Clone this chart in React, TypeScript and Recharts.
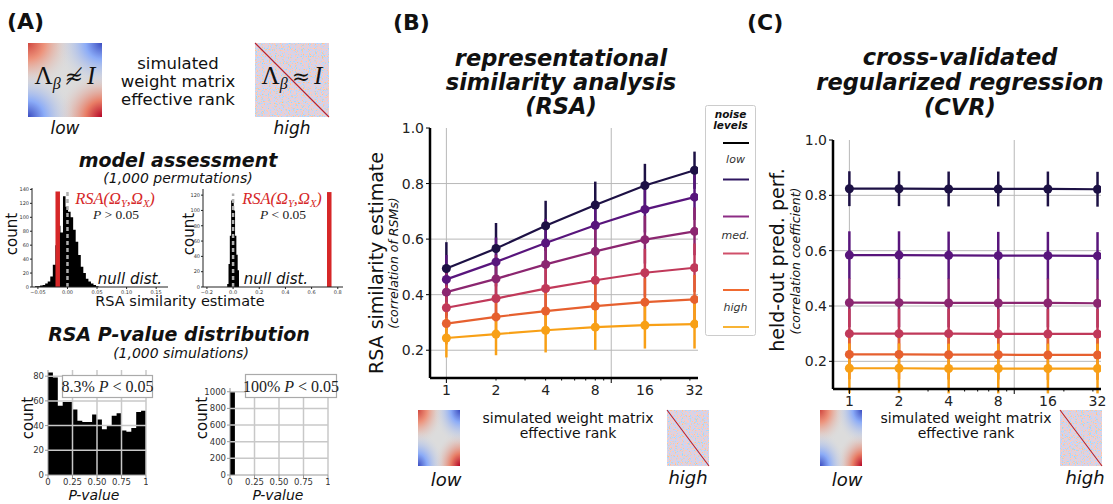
import React from 'react';
import {
  LineChart,
  Line,
  XAxis,
  YAxis,
  CartesianGrid,
  ErrorBar,
  AreaChart,
  Area,
  ReferenceLine,
} from 'recharts';

// ---- data ----
const ranks = [1, 2, 4, 8, 16, 32];
const rankTicks = [1, 2, 3, 4, 5, 6, 7, 8, 9, 10, 16, 20, 30, 32];

// RSA similarity estimate, one row per noise level (low -> high)
const rsaMeans = [
  [0.494, 0.566, 0.648, 0.723, 0.793, 0.848],
  [0.455, 0.518, 0.586, 0.65, 0.707, 0.751],
  [0.409, 0.457, 0.509, 0.556, 0.598, 0.628],
  [0.353, 0.386, 0.422, 0.452, 0.479, 0.497],
  [0.296, 0.32, 0.341, 0.359, 0.373, 0.383],
  [0.244, 0.258, 0.272, 0.283, 0.29, 0.294],
];
const rsaErrs = [
  [0.095, 0.092, 0.09, 0.084, 0.078, 0.067],
  [0.088, 0.088, 0.087, 0.085, 0.083, 0.082],
  [0.085, 0.086, 0.086, 0.086, 0.086, 0.086],
  [0.08, 0.082, 0.084, 0.085, 0.086, 0.087],
  [0.075, 0.078, 0.082, 0.084, 0.086, 0.088],
  [0.07, 0.076, 0.08, 0.082, 0.084, 0.088],
];

// CVR held-out prediction performance
const cvrMeans = [
  [0.824, 0.824, 0.823, 0.823, 0.823, 0.822],
  [0.584, 0.584, 0.583, 0.582, 0.582, 0.581],
  [0.412, 0.412, 0.411, 0.411, 0.411, 0.41],
  [0.3, 0.3, 0.3, 0.299, 0.299, 0.299],
  [0.225, 0.225, 0.224, 0.224, 0.223, 0.223],
  [0.175, 0.175, 0.174, 0.174, 0.174, 0.174],
];
const cvrErrs = [
  [0.063, 0.063, 0.063, 0.063, 0.063, 0.063],
  [0.086, 0.086, 0.086, 0.086, 0.086, 0.086],
  [0.088, 0.088, 0.088, 0.088, 0.088, 0.088],
  [0.09, 0.09, 0.09, 0.09, 0.09, 0.09],
  [0.09, 0.09, 0.09, 0.09, 0.09, 0.09],
  [0.09, 0.09, 0.09, 0.09, 0.09, 0.09],
];

const lineColors = ['#1d1145', '#58157c', '#8b2670', '#c0395a', '#e6602f', '#f8a016'];
const legendColors = ['#000000', '#2e1660', '#8d2d85', '#d0506a', '#f06a30', '#f8b435'];

// null distributions (permutation histograms)
const null1Start = -0.0549;
const null1Width = 0.0043;
const null1Counts = [1, 1, 2, 3, 5, 8, 15, 32, 60, 88, 78, 130, 115, 108, 100, 82, 65, 46, 29, 20, 12, 8, 5, 3, 1];
const null1Observed = -0.0165;

const null2Start = -0.045;
const null2Width = 0.01;
const null2Counts = [4, 30, 67, 113, 110, 100, 67, 42, 22];
const null2Observed = 0.735;

// P-value histograms (20 bins of 0.05)
const pLowCounts = [83, 79, 56, 59, 59, 53, 44, 43, 43, 49, 45, 37, 40, 48, 50, 36, 35, 38, 51, 52];
const pHighCounts = [1000, 0, 0, 0, 0, 0, 0, 0, 0, 0, 0, 0, 0, 0, 0, 0, 0, 0, 0, 0];

const SANS = 'DejaVu Sans';
const SERIF = 'Liberation Serif';

function toSteps(start: number, width: number, counts: number[]) {
  const pts = counts.map((c, i) => ({ x: start + i * width, c }));
  pts.push({ x: start + counts.length * width, c: 0 });
  return pts;
}

function buildRows(means: number[][], errs: number[][]) {
  return ranks.map((r, i) => {
    const row: any = { x: Math.log2(r) };
    means.forEach((m, s) => {
      row['m' + s] = m[i];
      row['e' + s] = errs[s][i];
    });
    return row;
  });
}

function RankTick(props: any) {
  const { x, y, payload } = props;
  const r = Math.round(Math.pow(2, payload.value));
  const len = r === 1 || r === 10 ? 5 : r === 16 || r === 32 ? 0 : 2.5;
  const show = ranks.includes(r);
  return (
    <g>
      {len > 0 && <line x1={x} x2={x} y1={y} y2={y + len} stroke="#000" strokeWidth={1} />}
      {show && (
        <text x={x} y={y + 17} textAnchor="middle" fontSize={14} fill="#222" fontFamily={SANS}>
          {r}
        </text>
      )}
    </g>
  );
}

function RankChart({ means, errs, left, top, height }: any) {
  const data = buildRows(means, errs);
  return (
    <div style={{ position: 'absolute', left, top }}>
      <LineChart width={330} height={height} data={data} margin={{ top: 10, right: 12, bottom: 0, left: 0 }}>
        <CartesianGrid
          horizontalValues={[0.2, 0.4, 0.6, 0.8]}
          verticalValues={[0, Math.log2(10)]}
          stroke="#b8b8b8"
          strokeWidth={1}
        />
        <XAxis
          type="number"
          dataKey="x"
          domain={[-0.33, 5.07]}
          allowDataOverflow
          ticks={rankTicks.map((t) => Math.log2(t))}
          interval={0}
          tick={<RankTick />}
          tickLine={false}
          tickSize={0}
          tickMargin={0}
          height={30}
          axisLine={{ stroke: '#000', strokeWidth: 2.5 }}
        />
        <YAxis
          type="number"
          domain={[0.1, 1.0]}
          allowDataOverflow
          ticks={[0.2, 0.4, 0.6, 0.8, 1.0]}
          tickFormatter={(v: number) => v.toFixed(1)}
          width={50}
          tick={{ fontSize: 14, fill: '#222', fontFamily: SANS }}
          tickSize={4}
          tickMargin={2}
          tickLine={{ stroke: '#000' }}
          axisLine={{ stroke: '#000', strokeWidth: 2.5 }}
        />
        {lineColors.map((c, s) => (
          <Line
            key={s}
            type="linear"
            dataKey={'m' + s}
            stroke={c}
            strokeWidth={2.2}
            dot={{ r: 4.5, fill: c, stroke: c, strokeWidth: 0 }}
            isAnimationActive={false}
          >
            <ErrorBar dataKey={'e' + s} width={0} stroke={c} strokeWidth={2.5} direction="y" isAnimationActive={false} />
          </Line>
        ))}
      </LineChart>
    </div>
  );
}

const minus = (s: string) => s.replace('-', '\u2212');

function NullHist({ left, top, width, height, yWidth, data, xDomain, yDomain, xTicks, yTicks, digits, observed, obsTop, dashTop }: any) {
  return (
    <div style={{ position: 'absolute', left, top }}>
      <AreaChart width={width} height={height} data={data} margin={{ top: 5, right: 2, bottom: 0, left: 0 }}>
        <XAxis
          type="number"
          dataKey="x"
          domain={xDomain}
          allowDataOverflow
          ticks={xTicks}
          interval={0}
          tickFormatter={(v: number) => minus(v.toFixed(digits))}
          tick={{ fontSize: 5, fill: '#333', fontFamily: SANS }}
          tickSize={2}
          tickMargin={1}
          height={10}
          axisLine={{ stroke: '#222' }}
          tickLine={{ stroke: '#222' }}
        />
        <YAxis
          type="number"
          domain={yDomain}
          allowDataOverflow
          ticks={yTicks}
          interval={0}
          tick={{ fontSize: 5, fill: '#333', fontFamily: SANS }}
          tickSize={2}
          tickMargin={1}
          width={yWidth}
          axisLine={{ stroke: '#222' }}
          tickLine={{ stroke: '#222' }}
        />
        <Area type="stepAfter" dataKey="c" fill="#000" fillOpacity={1} stroke="none" isAnimationActive={false} />
        <ReferenceLine
          segment={[{ x: observed, y: 0 }, { x: observed, y: obsTop }]}
          stroke="#d62728"
          strokeWidth={4.5}
        />
        <ReferenceLine
          segment={[{ x: 0, y: 0 }, { x: 0, y: dashTop }]}
          stroke="#b0b0b0"
          strokeWidth={2.5}
          strokeDasharray="4 3"
        />
      </AreaChart>
    </div>
  );
}

function PHist({ left, top, width, height, yWidth, counts, yDomain, yTicks, gridY }: any) {
  const data = toSteps(0, 0.05, counts);
  return (
    <div style={{ position: 'absolute', left, top }}>
      <AreaChart width={width} height={height} data={data} margin={{ top: 5, right: 2, bottom: 0, left: 0 }}>
        <XAxis
          type="number"
          dataKey="x"
          domain={[0, 1]}
          ticks={[0, 0.25, 0.5, 0.75, 1]}
          interval={0}
          tickFormatter={(v: number) => (v === 0 || v === 1 ? String(v) : v.toFixed(2))}
          tick={{ fontSize: 8.5, fill: '#333', fontFamily: SANS }}
          tickSize={3}
          tickMargin={1}
          height={14}
          axisLine={{ stroke: '#999' }}
          tickLine={{ stroke: '#999' }}
        />
        <YAxis
          type="number"
          domain={yDomain}
          allowDataOverflow
          ticks={yTicks}
          interval={0}
          tick={{ fontSize: 8.5, fill: '#333', fontFamily: SANS }}
          tickSize={3}
          tickMargin={1}
          width={yWidth}
          axisLine={{ stroke: '#999' }}
          tickLine={{ stroke: '#999' }}
        />
        <Area type="stepAfter" dataKey="c" fill="#000" fillOpacity={1} stroke="none" isAnimationActive={false} />
        {gridY.map((g: number) => (
          <ReferenceLine key={'y' + g} y={g} stroke="#c8c8c8" strokeWidth={1.5} />
        ))}
        {[0.25, 0.5, 0.75, 1].map((g) => (
          <ReferenceLine key={'x' + g} x={g} stroke="#c8c8c8" strokeWidth={1.5} />
        ))}
      </AreaChart>
    </div>
  );
}

// ---- matrix thumbnails ----
function LowRank({ x, y, w, h }: any) {
  return (
    <g>
      <rect x={x} y={y} width={w} height={h} fill="#dcdcdc" />
      <rect x={x} y={y} width={w} height={h} fill="url(#gTL)" />
      <rect x={x} y={y} width={w} height={h} fill="url(#gBR)" />
      <rect x={x} y={y} width={w} height={h} fill="url(#gTR)" />
      <rect x={x} y={y} width={w} height={h} fill="url(#gBL)" />
    </g>
  );
}

function HighRank({ x, y, w, h }: any) {
  return (
    <g>
      <rect x={x} y={y} width={w} height={h} fill="#d8d4dc" filter="url(#noise)" />
      <line x1={x} y1={y} x2={x + w} y2={y + h} stroke="#b4202f" strokeWidth={1.1} />
    </g>
  );
}

function MathLabel({ x, y, rel }: any) {
  return (
    <text x={x} y={y} textAnchor="middle" fontFamily={SERIF} fontSize={25} fill="#111">
      <tspan>Λ</tspan>
      <tspan fontSize={16} dy={5} fontStyle="italic">β</tspan>
      <tspan dy={-5} dx={4} fontFamily="DejaVu Serif" fontSize={22}>{rel}</tspan>
      <tspan dx={4} fontStyle="italic">I</tspan>
    </text>
  );
}

function RsaLabel({ x, y }: any) {
  return (
    <text x={x} y={y} textAnchor="middle" fontFamily={SERIF} fontStyle="italic" fontSize={16.5} fill="#d62728">
      <tspan>RSA(Ω</tspan>
      <tspan fontSize={10.5} dy={2.5}>Y</tspan>
      <tspan dy={-2.5}>,Ω</tspan>
      <tspan fontSize={10.5} dy={2.5}>X</tspan>
      <tspan dy={-2.5}>)</tspan>
    </text>
  );
}

function PLabel({ x, y, rel }: any) {
  return (
    <text x={x} y={y} textAnchor="middle" fontFamily={SERIF} fontSize={13.5} fill="#222">
      <tspan fontStyle="italic">P</tspan>
      <tspan>{` ${rel} 0.05`}</tspan>
    </text>
  );
}

function BoxLabel({ x, y, w, h, pct }: any) {
  return (
    <g>
      <rect x={x} y={y} width={w} height={h} fill="#fff" stroke="#aaa" strokeWidth={1.2} />
      <text x={x + w / 2} y={y + h - 6} textAnchor="middle" fontFamily={SERIF} fontSize={16} fill="#222">
        <tspan>{pct} </tspan>
        <tspan fontStyle="italic">P</tspan>
        <tspan>{' < 0.05'}</tspan>
      </text>
    </g>
  );
}

function VLabel({ x, y, size, italic, children }: any) {
  return (
    <text
      x={x}
      y={y}
      transform={`rotate(-90 ${x} ${y})`}
      textAnchor="middle"
      dominantBaseline="central"
      fontFamily={SANS}
      fontSize={size}
      fontStyle={italic ? 'italic' : 'normal'}
      fill="#111"
    >
      {children}
    </text>
  );
}

function T({ x, y, size, bold, italic, anchor = 'middle', children, fill = '#111' }: any) {
  return (
    <text
      x={x}
      y={y}
      textAnchor={anchor}
      fontFamily={SANS}
      fontSize={size}
      fontWeight={bold ? 'bold' : 'normal'}
      fontStyle={italic ? 'italic' : 'normal'}
      fill={fill}
    >
      {children}
    </text>
  );
}

function Legend() {
  const ys = [143, 179.5, 216.5, 253.5, 290, 327];
  return (
    <g>
      <rect x={705.5} y={105.5} width={50} height={230} rx={2} fill="#fff" stroke="#ccc" strokeWidth={1} />
      <T x={730.5} y={118} size={10.5} bold italic>noise</T>
      <T x={730.5} y={128.5} size={10.5} bold italic>levels</T>
      {legendColors.map((c, i) => (
        <line key={i} x1={723} x2={749} y1={ys[i]} y2={ys[i]} stroke={c} strokeWidth={2} />
      ))}
      <T x={735.5} y={163} size={11} italic fill="#333">low</T>
      <T x={735.5} y={239} size={11} italic fill="#333">med.</T>
      <T x={735.5} y={311} size={11} italic fill="#333">high</T>
    </g>
  );
}

function Gradient({ id, cx, cy, deep, light }: any) {
  return (
    <radialGradient id={id} cx={cx} cy={cy} r="1">
      <stop offset="0" stopColor={deep} />
      <stop offset="0.22" stopColor={light} stopOpacity={0.95} />
      <stop offset="0.62" stopColor="#dcdcdc" stopOpacity={0} />
    </radialGradient>
  );
}

export default function App() {
  return (
    <div
      style={{
        position: 'absolute',
        left: 0,
        top: 0,
        width: 1113,
        height: 504,
        background: '#fff',
        overflow: 'hidden',
        fontFamily: SANS,
      }}
    >
      <NullHist
        left={10}
        top={183}
        width={160}
        height={114}
        yWidth={22}
        data={toSteps(null1Start, null1Width, null1Counts)}
        xDomain={[-0.06, 0.17]}
        yDomain={[0, 142]}
        xTicks={[-0.05, 0, 0.05, 0.1, 0.15]}
        yTicks={[0, 20, 40, 60, 80, 100, 120, 140]}
        digits={2}
        observed={null1Observed}
        obsTop={137}
        dashTop={140}
      />
      <NullHist
        left={181}
        top={184}
        width={164}
        height={113}
        yWidth={22}
        data={toSteps(null2Start, null2Width, null2Counts)}
        xDomain={[-0.23, 0.84]}
        yDomain={[0, 128]}
        xTicks={[-0.2, 0, 0.2, 0.4, 0.6, 0.8]}
        yTicks={[0, 20, 40, 60, 80, 100, 120]}
        digits={1}
        observed={null2Observed}
        obsTop={124}
        dashTop={122}
      />
      <PHist
        left={24}
        top={365}
        width={124}
        height={124}
        yWidth={24}
        counts={pLowCounts}
        yDomain={[0, 85]}
        yTicks={[0, 20, 40, 60, 80]}
        gridY={[20, 40, 60, 80]}
      />
      <PHist
        left={204}
        top={383}
        width={126}
        height={106}
        yWidth={26}
        counts={pHighCounts}
        yDomain={[0, 1045]}
        yTicks={[0, 200, 400, 600, 800, 1000]}
        gridY={[200, 400, 600, 800, 1000]}
      />
      <RankChart means={rsaMeans} errs={rsaErrs} left={380} top={118} height={290} />
      <RankChart means={cvrMeans} errs={cvrErrs} left={783} top={130} height={289} />

      <svg width={1113} height={504} style={{ position: 'absolute', left: 0, top: 0, pointerEvents: 'none' }}>
        <defs>
          <Gradient id="gTL" cx="0" cy="0" deep="#d0473f" light="#ee8f76" />
          <Gradient id="gBR" cx="1" cy="1" deep="#b40426" light="#e9785f" />
          <Gradient id="gTR" cx="1" cy="0" deep="#3b4cc0" light="#87a9f9" />
          <Gradient id="gBL" cx="0" cy="1" deep="#3b4cc0" light="#87a9f9" />
          <filter id="noise" x="0" y="0" width="1" height="1" colorInterpolationFilters="sRGB">
            <feTurbulence type="fractalNoise" baseFrequency="0.85" numOctaves={1} seed={4} result="n" />
            <feColorMatrix
              in="n"
              type="matrix"
              values="1.2 0 0 0 0.27  -0.2 0 0 0 0.92  -1.3 0 0 0 1.53  0 0 0 0 1"
            />
          </filter>
        </defs>

        {/* panel letters */}
        <T x={7} y={29} size={22} bold anchor="start">(A)</T>
        <T x={393} y={30} size={22} bold anchor="start">(B)</T>
        <T x={747} y={30} size={22} bold anchor="start">(C)</T>

        {/* panel A header */}
        <LowRank x={28} y={43} w={74} h={74} />
        <MathLabel x={65} y={84} rel="≉" />
        <HighRank x={255} y={43} w={74} h={74} />
        <MathLabel x={292} y={84} rel="≈" />
        <T x={178} y={69} size={16.5}>simulated</T>
        <T x={178} y={87} size={16.5}>weight matrix</T>
        <T x={178} y={105} size={16.5}>effective rank</T>
        <T x={65} y={134} size={17} italic>low</T>
        <T x={292} y={134} size={17} italic>high</T>

        <T x={178} y={167} size={19} bold italic>model assessment</T>
        <T x={178} y={183} size={14} italic>(1,000 permutations)</T>
        <VLabel x={12} y={234} size={15}>count</VLabel>
        <VLabel x={189} y={234} size={15}>count</VLabel>
        <RsaLabel x={115} y={204} />
        <PLabel x={116} y={219} rel=">" />
        <RsaLabel x={282} y={204} />
        <PLabel x={283} y={219} rel="<" />
        <T x={130} y={284} size={15} italic>null dist.</T>
        <T x={276} y={284} size={15} italic>null dist.</T>
        <T x={180} y={306} size={14.5}>RSA similarity estimate</T>

        <T x={179} y={341} size={19} bold italic>RSA P-value distribution</T>
        <T x={181} y={358} size={14} italic>(1,000 simulations)</T>
        <BoxLabel x={62.5} y={375.5} w={90} h={22} pct="8.3%" />
        <BoxLabel x={245.5} y={374.5} w={91} h={23} pct="100%" />
        <VLabel x={28} y={418} size={15}>count</VLabel>
        <VLabel x={202} y={418} size={15}>count</VLabel>
        <T x={94} y={500} size={14} italic>P-value</T>
        <T x={278} y={500} size={14} italic>P-value</T>

        {/* panel B */}
        <T x={561} y={66} size={22.5} bold italic>representational</T>
        <T x={561} y={90} size={22.5} bold italic>similarity analysis</T>
        <T x={561} y={114} size={22.5} bold italic>(RSA)</T>
        <VLabel x={376} y={263} size={19}>RSA similarity estimate</VLabel>
        <VLabel x={393} y={263} size={12.5} italic>(correlation of RSMs)</VLabel>
        <Legend />
        <LowRank x={418} y={410} w={42} h={56} />
        <HighRank x={667} y={410} w={42} h={56} />
        <T x={568} y={423} size={14}>simulated weight matrix</T>
        <T x={568} y={438} size={14}>effective rank</T>
        <T x={446} y={486} size={18} italic>low</T>
        <T x={688} y={484} size={18} italic>high</T>

        {/* panel C */}
        <T x={960} y={65} size={22.5} bold italic>cross-validated</T>
        <T x={960} y={90} size={22.5} bold italic>regularized regression</T>
        <T x={960} y={115} size={22.5} bold italic>(CVR)</T>
        <VLabel x={777} y={260} size={19}>held-out  pred. perf.</VLabel>
        <VLabel x={795} y={261} size={12.5} italic>(correlation coefficient)</VLabel>
        <LowRank x={820} y={410} w={42} h={56} />
        <HighRank x={1060} y={410} w={42} h={56} />
        <T x={966} y={423} size={14}>simulated weight matrix</T>
        <T x={966} y={438} size={14}>effective rank</T>
        <T x={847} y={486} size={18} italic>low</T>
        <T x={1085} y={484} size={18} italic>high</T>
      </svg>
    </div>
  );
}
